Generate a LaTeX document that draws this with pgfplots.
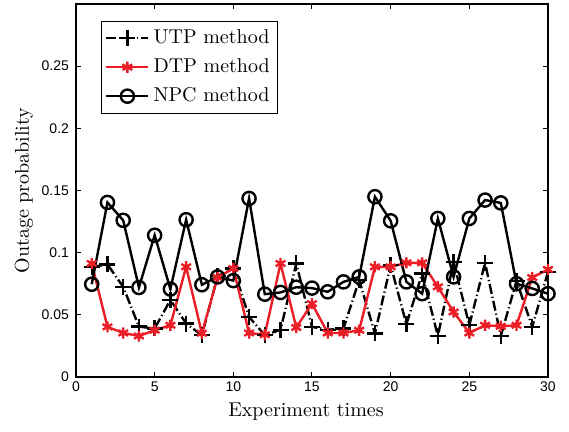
\documentclass[border=0pt]{standalone}
\usepackage{pgfplots}
\pgfplotsset{compat=1.18}
\usepackage{fontspec}
\newfontfamily\arial{Liberation Sans}
\definecolor{mred}{RGB}{235,30,40}
\begin{document}
\begin{tikzpicture}
\begin{axis}[
  name=ax,
  scale only axis,
  width=236pt, height=186.5pt,
  xmin=0, xmax=30, ymin=0, ymax=0.3,
  xtick={0,5,...,30},
  ytick={0,0.05,0.1,0.15,0.2,0.25},
  yticklabels={0,0.05,0.1,0.15,0.2,0.25},
  scaled y ticks=false,
  tick align=inside,
  major tick length=2.5pt,
  axis line style={line width=0.6pt},
  every tick/.style={line width=0.5pt, black},
  tick label style={font=\arial\fontsize{7}{8}\selectfont},
  /pgf/number format/assume math mode=true,
  xticklabel style={yshift=1pt},
  xlabel={Experiment times},
  ylabel={Outage probability},
  label style={font=\fontsize{10}{12}\selectfont},
  xlabel style={at={(axis description cs:0.5,0)}, anchor=center, yshift=-17.5pt, xshift=-3pt},
  ylabel style={at={(axis description cs:0,0.5)}, anchor=center, xshift=0pt, yshift=26pt},
  legend style={at={(rel axis cs:0,1)}, anchor=north west, xshift=12.35pt, yshift=-8.35pt,
    draw=black, line width=0.5pt, inner xsep=2pt, inner ysep=2pt, row sep=1.5pt,
    font=\fontsize{10}{12}\selectfont,
    nodes={inner sep=2pt, text height=7pt, text depth=2pt}},
  legend cell align=left,
  legend image code/.code={\draw[mark repeat=2,mark phase=2] plot coordinates {(0pt,0pt) (10.5pt,0pt) (21pt,0pt)};},
]
\addplot[black, line width=1.2pt, dash pattern=on 5pt off 1.5pt on 0.6pt off 1.5pt, mark=+, mark size=4pt, mark options={solid, line width=1.2pt}] coordinates {
(1,0.0886) (2,0.0905) (3,0.0725) (4,0.0405) (5,0.039) (6,0.062) (7,0.043) (8,0.0336) (9,0.081) (10,0.0873)
(11,0.0483) (12,0.0336) (13,0.038) (14,0.0913) (15,0.0403) (16,0.038) (17,0.039) (18,0.078) (19,0.035) (20,0.090)
(21,0.0424) (22,0.0832) (23,0.033) (24,0.0926) (25,0.0416) (26,0.0918) (27,0.033) (28,0.0773) (29,0.0403) (30,0.0845)
};
\addlegendentry{UTP method}
\addplot[mred, line width=1.2pt, mark=asterisk, mark size=2.8pt, mark options={solid, line width=1.2pt}] coordinates {
(1,0.0913) (2,0.0403) (3,0.0354) (4,0.033) (5,0.0376) (6,0.0416) (7,0.0886) (8,0.0352) (9,0.080) (10,0.0873)
(11,0.0354) (12,0.034) (13,0.0913) (14,0.0398) (15,0.059) (16,0.0354) (17,0.0354) (18,0.0376) (19,0.0886) (20,0.0886)
(21,0.0918) (22,0.0918) (23,0.0725) (24,0.0523) (25,0.0354) (26,0.0416) (27,0.0408) (28,0.0416) (29,0.080) (30,0.0865)
};
\addlegendentry{DTP method}
\addplot[black, line width=1.2pt, mark=o, mark size=3.3pt, mark options={solid, line width=1.2pt}] coordinates {
(1,0.0746) (2,0.1404) (3,0.126) (4,0.072) (5,0.114) (6,0.0707) (7,0.1265) (8,0.0742) (9,0.0805) (10,0.0775)
(11,0.1436) (12,0.0666) (13,0.068) (14,0.0722) (15,0.0715) (16,0.0685) (17,0.0765) (18,0.0805) (19,0.145) (20,0.1256)
(21,0.0765) (22,0.067) (23,0.1275) (24,0.0805) (25,0.1275) (26,0.1423) (27,0.140) (28,0.075) (29,0.0712) (30,0.067)
};
\addlegendentry{NPC method}
\end{axis}
\pgfresetboundingbox
\path[use as bounding box] ([xshift=-38pt,yshift=-27.5pt]ax.south west) rectangle ([xshift=10.5pt,yshift=2pt]ax.north east);
\end{tikzpicture}
\end{document}
